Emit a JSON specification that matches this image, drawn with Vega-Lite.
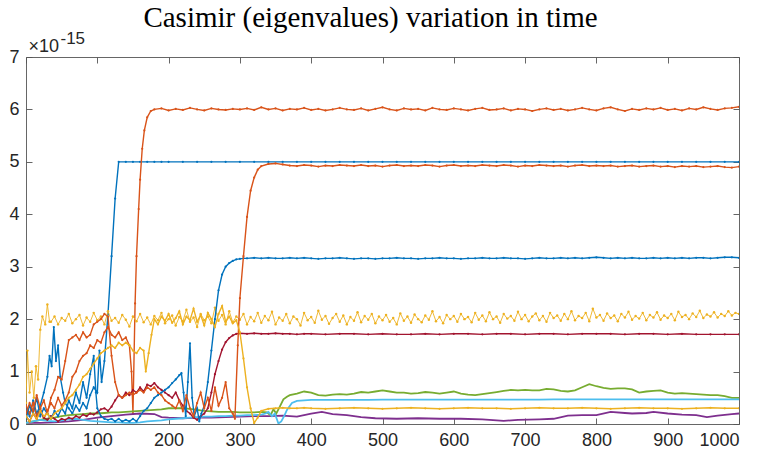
{
"$schema": "https://vega.github.io/schema/vega-lite/v6.json",
"width": 713, "height": 367,
"autosize": {"type": "none"},
"padding": {"left": 26, "top": 57, "right": 25, "bottom": 30},
"background": "white",
"title": {"text": "Casimir (eigenvalues) variation in time", "font": "Liberation Serif", "fontSize": 29, "fontWeight": "normal", "color": "#000000", "anchor": "middle", "baseline": "alphabetic", "offset": 6, "dy": 33, "dx": -12},
"config": {"view": {"stroke": null}, "axis": {"labelFont": "Liberation Sans", "labelFontSize": 18, "labelColor": "#262626", "domainColor": "#555555", "tickColor": "#555555", "domainWidth": 0.9, "tickWidth": 0.9, "grid": false, "tickSize": -6, "labelPadding": 13}},
"datasets": {
"b1": [{"t":0,"v":0.3},{"t":5,"v":0.15},{"t":10,"v":0.45},{"t":15,"v":0.2},{"t":20,"v":0.35},{"t":25,"v":0.6},{"t":30,"v":0.9},{"t":33,"v":1.3},{"t":36,"v":1.1},{"t":39,"v":1.85},{"t":42,"v":1.2},{"t":45,"v":1.5},{"t":48,"v":0.9},{"t":52,"v":0.6},{"t":55,"v":0.4},{"t":60,"v":0.3},{"t":65,"v":0.2},{"t":70,"v":0.35},{"t":75,"v":0.25},{"t":80,"v":0.4},{"t":85,"v":0.3},{"t":90,"v":0.55},{"t":95,"v":0.7},{"t":100,"v":0.6},{"t":103,"v":1.4},{"t":106,"v":0.8},{"t":110,"v":1.2},{"t":115,"v":2.1},{"t":120,"v":3.2},{"t":125,"v":4.3},{"t":130,"v":5},{"t":140,"v":5},{"t":150,"v":5},{"t":160,"v":5},{"t":170,"v":5},{"t":180,"v":5},{"t":190,"v":5},{"t":200,"v":5},{"t":220,"v":5},{"t":240,"v":5},{"t":260,"v":5},{"t":280,"v":5},{"t":300,"v":5},{"t":320,"v":5},{"t":340,"v":5},{"t":360,"v":5},{"t":380,"v":5},{"t":400,"v":5},{"t":420,"v":5},{"t":440,"v":5},{"t":460,"v":5},{"t":480,"v":5},{"t":500,"v":5},{"t":520,"v":5},{"t":540,"v":5},{"t":560,"v":5},{"t":580,"v":5},{"t":600,"v":5},{"t":620,"v":5},{"t":640,"v":5},{"t":660,"v":5},{"t":680,"v":5},{"t":700,"v":5},{"t":720,"v":5},{"t":740,"v":5},{"t":760,"v":5},{"t":780,"v":5},{"t":800,"v":5},{"t":820,"v":5},{"t":840,"v":5},{"t":860,"v":5},{"t":880,"v":5},{"t":900,"v":5},{"t":920,"v":5},{"t":940,"v":5},{"t":960,"v":5},{"t":980,"v":5},{"t":1000,"v":5}],
"o1": [{"t":0,"v":0.35},{"t":5,"v":0.2},{"t":10,"v":0.4},{"t":15,"v":0.15},{"t":20,"v":0.3},{"t":25,"v":0.1},{"t":30,"v":0.25},{"t":35,"v":0.4},{"t":40,"v":0.3},{"t":45,"v":0.5},{"t":50,"v":0.35},{"t":55,"v":0.45},{"t":60,"v":0.6},{"t":65,"v":0.9},{"t":70,"v":1.0},{"t":75,"v":1.2},{"t":80,"v":1.3},{"t":85,"v":1.35},{"t":90,"v":1.5},{"t":95,"v":1.45},{"t":100,"v":1.6},{"t":105,"v":1.55},{"t":110,"v":1.75},{"t":115,"v":1.85},{"t":120,"v":1.7},{"t":125,"v":1.65},{"t":130,"v":1.75},{"t":135,"v":1.6},{"t":140,"v":1.65},{"t":145,"v":1.5},{"t":148,"v":1.0},{"t":150,"v":0.2},{"t":153,"v":2.3},{"t":155,"v":3.2},{"t":158,"v":4.1},{"t":160,"v":4.66},{"t":163,"v":5.25},{"t":166,"v":5.6},{"t":170,"v":5.85},{"t":175,"v":5.97},{"t":180,"v":6.0},{"t":190,"v":6.02},{"t":200,"v":5.98},{"t":210,"v":6.01},{"t":220,"v":5.99},{"t":230,"v":6.03},{"t":240,"v":6.0},{"t":250,"v":5.98},{"t":260,"v":6.02},{"t":270,"v":6.0},{"t":280,"v":5.99},{"t":290,"v":6.01},{"t":300,"v":6.0},{"t":310,"v":6.02},{"t":320,"v":5.99},{"t":330,"v":6.04},{"t":340,"v":6.0},{"t":350,"v":6.02},{"t":360,"v":5.98},{"t":370,"v":6.01},{"t":380,"v":6.0},{"t":390,"v":6.03},{"t":400,"v":5.99},{"t":410,"v":6.01},{"t":420,"v":5.98},{"t":430,"v":6.0},{"t":440,"v":6.03},{"t":450,"v":6.0},{"t":460,"v":5.99},{"t":470,"v":6.02},{"t":480,"v":5.98},{"t":490,"v":6.01},{"t":500,"v":6.04},{"t":510,"v":6.0},{"t":520,"v":5.98},{"t":530,"v":6.02},{"t":540,"v":6.0},{"t":550,"v":6.01},{"t":560,"v":5.98},{"t":570,"v":6.03},{"t":580,"v":6.0},{"t":590,"v":5.99},{"t":600,"v":6.02},{"t":610,"v":6.0},{"t":620,"v":5.98},{"t":630,"v":6.01},{"t":640,"v":6.03},{"t":650,"v":5.99},{"t":660,"v":6.0},{"t":670,"v":6.02},{"t":680,"v":5.98},{"t":690,"v":6.01},{"t":700,"v":6.0},{"t":710,"v":5.97},{"t":720,"v":6.0},{"t":730,"v":6.02},{"t":740,"v":5.99},{"t":750,"v":6.01},{"t":760,"v":5.98},{"t":770,"v":6.0},{"t":780,"v":6.03},{"t":790,"v":6.0},{"t":800,"v":5.98},{"t":810,"v":6.02},{"t":820,"v":6.04},{"t":830,"v":6.0},{"t":840,"v":5.97},{"t":850,"v":6.01},{"t":860,"v":5.99},{"t":870,"v":6.02},{"t":880,"v":6.0},{"t":890,"v":6.03},{"t":900,"v":5.99},{"t":910,"v":6.01},{"t":920,"v":5.98},{"t":930,"v":6.02},{"t":940,"v":6.0},{"t":950,"v":6.04},{"t":960,"v":6.01},{"t":970,"v":5.99},{"t":980,"v":6.02},{"t":990,"v":6.03},{"t":1000,"v":6.05}],
"y1": [{"t":0,"v":0.4},{"t":2,"v":1.4},{"t":5,"v":0.6},{"t":8,"v":1.0},{"t":11,"v":0.5},{"t":14,"v":1.1},{"t":17,"v":0.85},{"t":20,"v":1.8},{"t":23,"v":2.05},{"t":27,"v":1.9},{"t":30,"v":2.28},{"t":33,"v":1.95},{"t":35,"v":1.95},{"t":40,"v":2.05},{"t":45,"v":1.9},{"t":50,"v":2.02},{"t":55,"v":1.97},{"t":60,"v":2.1},{"t":65,"v":1.92},{"t":70,"v":2.0},{"t":75,"v":2.08},{"t":80,"v":1.88},{"t":85,"v":2.03},{"t":90,"v":1.95},{"t":95,"v":2.12},{"t":100,"v":1.98},{"t":105,"v":2.05},{"t":110,"v":1.9},{"t":115,"v":2.15},{"t":120,"v":1.97},{"t":125,"v":2.02},{"t":130,"v":1.93},{"t":135,"v":2.08},{"t":140,"v":1.99},{"t":145,"v":1.86},{"t":150,"v":2.05},{"t":155,"v":1.96},{"t":160,"v":2.1},{"t":165,"v":1.94},{"t":170,"v":2.03},{"t":175,"v":1.9},{"t":180,"v":2.06},{"t":185,"v":1.98},{"t":190,"v":2.12},{"t":195,"v":1.92},{"t":200,"v":2.0},{"t":205,"v":2.07},{"t":210,"v":1.88},{"t":215,"v":2.04},{"t":220,"v":1.96},{"t":225,"v":2.18},{"t":230,"v":1.95},{"t":235,"v":2.03},{"t":240,"v":1.85},{"t":245,"v":2.1},{"t":250,"v":1.98},{"t":255,"v":2.05},{"t":260,"v":1.92},{"t":265,"v":2.22},{"t":270,"v":1.97},{"t":275,"v":2.08},{"t":280,"v":1.9},{"t":285,"v":2.15},{"t":290,"v":1.94},{"t":295,"v":2.05},{"t":300,"v":1.99},{"t":305,"v":2.1},{"t":310,"v":1.9},{"t":315,"v":2.04},{"t":320,"v":1.96},{"t":325,"v":2.12},{"t":330,"v":1.93},{"t":335,"v":2.06},{"t":340,"v":1.98},{"t":345,"v":2.14},{"t":350,"v":1.9},{"t":355,"v":2.03},{"t":360,"v":1.97},{"t":365,"v":2.1},{"t":370,"v":1.92},{"t":375,"v":2.05},{"t":380,"v":2.0},{"t":385,"v":1.88},{"t":390,"v":2.12},{"t":395,"v":1.98},{"t":400,"v":2.04},{"t":405,"v":1.93},{"t":410,"v":2.16},{"t":415,"v":1.99},{"t":420,"v":2.06},{"t":425,"v":1.91},{"t":430,"v":2.02},{"t":435,"v":2.1},{"t":440,"v":1.95},{"t":445,"v":2.07},{"t":450,"v":1.9},{"t":455,"v":2.04},{"t":460,"v":1.97},{"t":465,"v":2.13},{"t":470,"v":1.94},{"t":475,"v":2.06},{"t":480,"v":1.99},{"t":485,"v":2.1},{"t":490,"v":1.92},{"t":495,"v":2.05},{"t":500,"v":1.98},{"t":505,"v":2.08},{"t":510,"v":1.95},{"t":515,"v":2.02},{"t":520,"v":1.9},{"t":525,"v":2.11},{"t":530,"v":1.97},{"t":535,"v":2.05},{"t":540,"v":1.93},{"t":545,"v":2.09},{"t":550,"v":2.0},{"t":555,"v":1.94},{"t":560,"v":2.07},{"t":565,"v":1.99},{"t":570,"v":2.15},{"t":575,"v":1.96},{"t":580,"v":2.04},{"t":585,"v":1.92},{"t":590,"v":2.08},{"t":595,"v":2.0},{"t":600,"v":2.06},{"t":605,"v":1.95},{"t":610,"v":2.1},{"t":615,"v":2.0},{"t":620,"v":2.04},{"t":625,"v":1.94},{"t":630,"v":2.12},{"t":635,"v":1.99},{"t":640,"v":2.07},{"t":645,"v":1.96},{"t":650,"v":2.13},{"t":655,"v":2.0},{"t":660,"v":2.05},{"t":665,"v":1.93},{"t":670,"v":2.1},{"t":675,"v":2.01},{"t":680,"v":2.06},{"t":685,"v":1.97},{"t":690,"v":2.14},{"t":695,"v":2.0},{"t":700,"v":2.08},{"t":705,"v":1.96},{"t":710,"v":2.05},{"t":715,"v":2.11},{"t":720,"v":1.98},{"t":725,"v":2.06},{"t":730,"v":1.95},{"t":735,"v":2.12},{"t":740,"v":2.02},{"t":745,"v":2.07},{"t":750,"v":1.97},{"t":755,"v":2.1},{"t":760,"v":2.0},{"t":765,"v":2.15},{"t":770,"v":1.98},{"t":775,"v":2.06},{"t":780,"v":2.02},{"t":785,"v":2.12},{"t":790,"v":1.96},{"t":795,"v":2.2},{"t":800,"v":2.03},{"t":805,"v":2.08},{"t":810,"v":1.97},{"t":815,"v":2.11},{"t":820,"v":2.02},{"t":825,"v":2.07},{"t":830,"v":1.96},{"t":835,"v":2.1},{"t":840,"v":2.03},{"t":845,"v":2.14},{"t":850,"v":1.99},{"t":855,"v":2.06},{"t":860,"v":2.01},{"t":865,"v":2.12},{"t":870,"v":1.98},{"t":875,"v":2.08},{"t":880,"v":2.03},{"t":885,"v":2.13},{"t":890,"v":1.99},{"t":895,"v":2.07},{"t":900,"v":2.02},{"t":905,"v":2.1},{"t":910,"v":1.98},{"t":915,"v":2.14},{"t":920,"v":2.04},{"t":925,"v":2.08},{"t":930,"v":2.0},{"t":935,"v":2.11},{"t":940,"v":2.04},{"t":945,"v":2.16},{"t":950,"v":2.02},{"t":955,"v":2.09},{"t":960,"v":2.05},{"t":965,"v":2.13},{"t":970,"v":2.03},{"t":975,"v":2.1},{"t":980,"v":2.06},{"t":985,"v":2.15},{"t":990,"v":2.07},{"t":995,"v":2.12},{"t":1000,"v":2.1}],
"p1": [{"t":0,"v":0.02},{"t":20,"v":0.02},{"t":40,"v":0.03},{"t":60,"v":0.05},{"t":80,"v":0.08},{"t":100,"v":0.12},{"t":120,"v":0.15},{"t":140,"v":0.18},{"t":160,"v":0.2},{"t":180,"v":0.19},{"t":190,"v":0.13},{"t":200,"v":0.12},{"t":220,"v":0.11},{"t":240,"v":0.12},{"t":260,"v":0.12},{"t":280,"v":0.13},{"t":300,"v":0.14},{"t":320,"v":0.15},{"t":340,"v":0.15},{"t":360,"v":0.16},{"t":380,"v":0.14},{"t":400,"v":0.2},{"t":415,"v":0.23},{"t":430,"v":0.19},{"t":450,"v":0.17},{"t":470,"v":0.13},{"t":490,"v":0.11},{"t":520,"v":0.1},{"t":550,"v":0.11},{"t":580,"v":0.1},{"t":610,"v":0.1},{"t":640,"v":0.09},{"t":670,"v":0.06},{"t":690,"v":0.08},{"t":720,"v":0.09},{"t":740,"v":0.1},{"t":760,"v":0.16},{"t":780,"v":0.17},{"t":800,"v":0.17},{"t":820,"v":0.23},{"t":840,"v":0.21},{"t":850,"v":0.2},{"t":870,"v":0.21},{"t":880,"v":0.23},{"t":900,"v":0.2},{"t":920,"v":0.18},{"t":940,"v":0.17},{"t":955,"v":0.13},{"t":970,"v":0.16},{"t":990,"v":0.19},{"t":1000,"v":0.2}],
"g1": [{"t":0,"v":0.02},{"t":10,"v":0.05},{"t":20,"v":0.08},{"t":30,"v":0.1},{"t":40,"v":0.12},{"t":50,"v":0.15},{"t":60,"v":0.17},{"t":70,"v":0.18},{"t":80,"v":0.19},{"t":90,"v":0.2},{"t":100,"v":0.2},{"t":110,"v":0.21},{"t":120,"v":0.22},{"t":130,"v":0.22},{"t":140,"v":0.23},{"t":150,"v":0.24},{"t":160,"v":0.25},{"t":170,"v":0.26},{"t":180,"v":0.27},{"t":190,"v":0.28},{"t":200,"v":0.3},{"t":210,"v":0.3},{"t":220,"v":0.3},{"t":230,"v":0.29},{"t":240,"v":0.27},{"t":250,"v":0.25},{"t":260,"v":0.24},{"t":270,"v":0.23},{"t":280,"v":0.23},{"t":290,"v":0.23},{"t":300,"v":0.22},{"t":310,"v":0.22},{"t":320,"v":0.22},{"t":330,"v":0.23},{"t":338,"v":0.22},{"t":343,"v":0.17},{"t":347,"v":0.28},{"t":351,"v":0.2},{"t":356,"v":0.33},{"t":361,"v":0.47},{"t":366,"v":0.52},{"t":370,"v":0.55},{"t":380,"v":0.58},{"t":390,"v":0.62},{"t":400,"v":0.6},{"t":410,"v":0.55},{"t":420,"v":0.54},{"t":430,"v":0.56},{"t":440,"v":0.57},{"t":450,"v":0.56},{"t":460,"v":0.58},{"t":470,"v":0.61},{"t":480,"v":0.6},{"t":490,"v":0.62},{"t":500,"v":0.64},{"t":510,"v":0.62},{"t":520,"v":0.6},{"t":530,"v":0.6},{"t":540,"v":0.58},{"t":550,"v":0.59},{"t":560,"v":0.61},{"t":570,"v":0.6},{"t":580,"v":0.58},{"t":590,"v":0.6},{"t":600,"v":0.62},{"t":610,"v":0.58},{"t":620,"v":0.56},{"t":630,"v":0.55},{"t":640,"v":0.57},{"t":650,"v":0.59},{"t":660,"v":0.61},{"t":670,"v":0.63},{"t":680,"v":0.65},{"t":690,"v":0.64},{"t":700,"v":0.65},{"t":710,"v":0.64},{"t":720,"v":0.64},{"t":730,"v":0.67},{"t":740,"v":0.66},{"t":750,"v":0.63},{"t":760,"v":0.62},{"t":770,"v":0.64},{"t":780,"v":0.7},{"t":790,"v":0.76},{"t":800,"v":0.72},{"t":810,"v":0.69},{"t":820,"v":0.67},{"t":830,"v":0.68},{"t":840,"v":0.68},{"t":850,"v":0.66},{"t":860,"v":0.6},{"t":870,"v":0.62},{"t":880,"v":0.63},{"t":890,"v":0.64},{"t":900,"v":0.6},{"t":910,"v":0.58},{"t":920,"v":0.59},{"t":930,"v":0.58},{"t":940,"v":0.57},{"t":950,"v":0.56},{"t":960,"v":0.55},{"t":970,"v":0.55},{"t":980,"v":0.53},{"t":990,"v":0.5},{"t":1000,"v":0.5}],
"c1": [{"t":0,"v":0.02},{"t":10,"v":0.05},{"t":20,"v":0.08},{"t":30,"v":0.06},{"t":40,"v":0.05},{"t":50,"v":0.07},{"t":60,"v":0.09},{"t":70,"v":0.1},{"t":80,"v":0.08},{"t":90,"v":0.06},{"t":100,"v":0.05},{"t":110,"v":0.04},{"t":120,"v":0.03},{"t":130,"v":0.03},{"t":140,"v":0.02},{"t":150,"v":0.02},{"t":160,"v":0.03},{"t":170,"v":0.05},{"t":180,"v":0.06},{"t":190,"v":0.07},{"t":200,"v":0.09},{"t":210,"v":0.1},{"t":220,"v":0.11},{"t":230,"v":0.12},{"t":240,"v":0.13},{"t":250,"v":0.14},{"t":260,"v":0.14},{"t":270,"v":0.15},{"t":280,"v":0.15},{"t":290,"v":0.16},{"t":300,"v":0.16},{"t":310,"v":0.17},{"t":320,"v":0.17},{"t":330,"v":0.18},{"t":336,"v":0.2},{"t":340,"v":0.23},{"t":345,"v":0.15},{"t":349,"v":0.2},{"t":354,"v":0.01},{"t":358,"v":0.05},{"t":362,"v":0.15},{"t":366,"v":0.27},{"t":373,"v":0.4},{"t":380,"v":0.44},{"t":390,"v":0.45},{"t":400,"v":0.46},{"t":420,"v":0.46},{"t":440,"v":0.46},{"t":460,"v":0.46},{"t":480,"v":0.46},{"t":500,"v":0.465},{"t":520,"v":0.465},{"t":540,"v":0.465},{"t":560,"v":0.465},{"t":580,"v":0.465},{"t":600,"v":0.465},{"t":620,"v":0.465},{"t":640,"v":0.465},{"t":660,"v":0.465},{"t":680,"v":0.465},{"t":700,"v":0.465},{"t":720,"v":0.465},{"t":740,"v":0.47},{"t":760,"v":0.47},{"t":780,"v":0.47},{"t":800,"v":0.47},{"t":820,"v":0.47},{"t":840,"v":0.47},{"t":860,"v":0.47},{"t":880,"v":0.47},{"t":900,"v":0.47},{"t":920,"v":0.47},{"t":940,"v":0.47},{"t":960,"v":0.47},{"t":980,"v":0.47},{"t":1000,"v":0.47}],
"r1": [{"t":0,"v":0.15},{"t":5,"v":0.05},{"t":10,"v":0.2},{"t":15,"v":0.1},{"t":20,"v":0.25},{"t":25,"v":0.12},{"t":30,"v":0.08},{"t":35,"v":0.15},{"t":40,"v":0.1},{"t":45,"v":0.05},{"t":50,"v":0.1},{"t":55,"v":0.08},{"t":60,"v":0.12},{"t":65,"v":0.1},{"t":70,"v":0.15},{"t":75,"v":0.12},{"t":80,"v":0.18},{"t":85,"v":0.15},{"t":90,"v":0.2},{"t":95,"v":0.18},{"t":100,"v":0.22},{"t":105,"v":0.28},{"t":110,"v":0.3},{"t":115,"v":0.25},{"t":120,"v":0.33},{"t":125,"v":0.45},{"t":130,"v":0.55},{"t":135,"v":0.5},{"t":140,"v":0.6},{"t":145,"v":0.55},{"t":150,"v":0.65},{"t":155,"v":0.6},{"t":160,"v":0.7},{"t":165,"v":0.62},{"t":170,"v":0.75},{"t":175,"v":0.72},{"t":180,"v":0.78},{"t":185,"v":0.7},{"t":190,"v":0.65},{"t":195,"v":0.6},{"t":200,"v":0.55},{"t":205,"v":0.5},{"t":210,"v":0.6},{"t":215,"v":0.45},{"t":220,"v":0.35},{"t":225,"v":0.25},{"t":230,"v":0.2},{"t":235,"v":0.12},{"t":240,"v":0.08},{"t":245,"v":0.15},{"t":250,"v":0.2},{"t":255,"v":0.3},{"t":260,"v":0.6},{"t":265,"v":0.95},{"t":270,"v":1.2},{"t":275,"v":1.42},{"t":280,"v":1.56},{"t":285,"v":1.64},{"t":290,"v":1.69},{"t":295,"v":1.72},{"t":300,"v":1.73},{"t":310,"v":1.72},{"t":320,"v":1.73},{"t":330,"v":1.72},{"t":340,"v":1.72},{"t":350,"v":1.73},{"t":360,"v":1.72},{"t":370,"v":1.72},{"t":380,"v":1.71},{"t":390,"v":1.72},{"t":400,"v":1.72},{"t":420,"v":1.71},{"t":440,"v":1.72},{"t":460,"v":1.72},{"t":480,"v":1.71},{"t":500,"v":1.72},{"t":520,"v":1.71},{"t":540,"v":1.71},{"t":560,"v":1.72},{"t":580,"v":1.71},{"t":600,"v":1.72},{"t":620,"v":1.72},{"t":640,"v":1.71},{"t":660,"v":1.72},{"t":680,"v":1.72},{"t":700,"v":1.71},{"t":720,"v":1.72},{"t":740,"v":1.72},{"t":760,"v":1.71},{"t":780,"v":1.72},{"t":800,"v":1.72},{"t":820,"v":1.72},{"t":840,"v":1.71},{"t":860,"v":1.72},{"t":880,"v":1.72},{"t":900,"v":1.71},{"t":920,"v":1.72},{"t":940,"v":1.71},{"t":960,"v":1.71},{"t":980,"v":1.71},{"t":1000,"v":1.71}],
"b2": [{"t":0,"v":0.1},{"t":5,"v":0.35},{"t":10,"v":0.2},{"t":15,"v":0.5},{"t":20,"v":0.15},{"t":25,"v":0.3},{"t":30,"v":0.2},{"t":35,"v":0.1},{"t":40,"v":0.25},{"t":45,"v":0.15},{"t":50,"v":0.3},{"t":55,"v":0.2},{"t":60,"v":0.45},{"t":65,"v":0.3},{"t":70,"v":0.6},{"t":75,"v":0.4},{"t":80,"v":0.8},{"t":85,"v":0.5},{"t":90,"v":0.95},{"t":95,"v":1.3},{"t":98,"v":0.6},{"t":100,"v":0.3},{"t":105,"v":0.15},{"t":110,"v":0.1},{"t":115,"v":0.08},{"t":120,"v":0.1},{"t":125,"v":0.05},{"t":130,"v":0.1},{"t":135,"v":0.05},{"t":140,"v":0.08},{"t":145,"v":0.05},{"t":150,"v":0.1},{"t":155,"v":0.05},{"t":160,"v":0.15},{"t":165,"v":0.25},{"t":170,"v":0.3},{"t":175,"v":0.4},{"t":180,"v":0.5},{"t":185,"v":0.55},{"t":190,"v":0.6},{"t":195,"v":0.65},{"t":200,"v":0.7},{"t":205,"v":0.78},{"t":210,"v":0.85},{"t":215,"v":0.93},{"t":218,"v":0.97},{"t":221,"v":0.6},{"t":224,"v":0.15},{"t":227,"v":0.8},{"t":230,"v":1.54},{"t":233,"v":0.5},{"t":236,"v":0.15},{"t":240,"v":0.3},{"t":243,"v":0.05},{"t":246,"v":0.2},{"t":250,"v":0.35},{"t":255,"v":0.8},{"t":260,"v":1.4},{"t":265,"v":2.0},{"t":270,"v":2.55},{"t":275,"v":2.85},{"t":280,"v":3.0},{"t":285,"v":3.07},{"t":290,"v":3.11},{"t":295,"v":3.14},{"t":300,"v":3.15},{"t":305,"v":3.16},{"t":310,"v":3.16},{"t":320,"v":3.17},{"t":330,"v":3.16},{"t":340,"v":3.17},{"t":350,"v":3.16},{"t":360,"v":3.16},{"t":370,"v":3.17},{"t":380,"v":3.16},{"t":390,"v":3.17},{"t":400,"v":3.16},{"t":410,"v":3.15},{"t":420,"v":3.16},{"t":430,"v":3.16},{"t":440,"v":3.17},{"t":450,"v":3.16},{"t":460,"v":3.15},{"t":470,"v":3.16},{"t":480,"v":3.16},{"t":490,"v":3.15},{"t":500,"v":3.16},{"t":510,"v":3.16},{"t":520,"v":3.17},{"t":530,"v":3.16},{"t":540,"v":3.16},{"t":550,"v":3.15},{"t":560,"v":3.16},{"t":570,"v":3.16},{"t":580,"v":3.17},{"t":590,"v":3.16},{"t":600,"v":3.16},{"t":610,"v":3.15},{"t":620,"v":3.16},{"t":630,"v":3.16},{"t":640,"v":3.17},{"t":650,"v":3.16},{"t":660,"v":3.16},{"t":670,"v":3.17},{"t":680,"v":3.16},{"t":690,"v":3.16},{"t":700,"v":3.15},{"t":710,"v":3.16},{"t":720,"v":3.17},{"t":730,"v":3.16},{"t":740,"v":3.16},{"t":750,"v":3.17},{"t":760,"v":3.16},{"t":770,"v":3.17},{"t":780,"v":3.16},{"t":790,"v":3.17},{"t":800,"v":3.18},{"t":810,"v":3.17},{"t":820,"v":3.16},{"t":830,"v":3.17},{"t":840,"v":3.16},{"t":850,"v":3.17},{"t":860,"v":3.16},{"t":870,"v":3.16},{"t":880,"v":3.17},{"t":890,"v":3.16},{"t":900,"v":3.17},{"t":910,"v":3.16},{"t":920,"v":3.17},{"t":930,"v":3.16},{"t":940,"v":3.17},{"t":950,"v":3.17},{"t":960,"v":3.16},{"t":970,"v":3.17},{"t":980,"v":3.18},{"t":990,"v":3.18},{"t":1000,"v":3.17}],
"o2": [{"t":0,"v":0.2},{"t":5,"v":0.4},{"t":10,"v":0.25},{"t":15,"v":0.55},{"t":20,"v":0.3},{"t":25,"v":0.45},{"t":30,"v":0.2},{"t":35,"v":0.5},{"t":40,"v":0.65},{"t":45,"v":0.9},{"t":50,"v":0.85},{"t":55,"v":1.2},{"t":60,"v":1.6},{"t":65,"v":1.65},{"t":70,"v":1.7},{"t":75,"v":1.6},{"t":80,"v":1.75},{"t":85,"v":1.65},{"t":90,"v":1.7},{"t":95,"v":1.9},{"t":100,"v":1.95},{"t":105,"v":2.0},{"t":110,"v":2.1},{"t":115,"v":2.05},{"t":120,"v":1.3},{"t":125,"v":0.8},{"t":130,"v":0.55},{"t":135,"v":0.5},{"t":140,"v":0.55},{"t":145,"v":0.6},{"t":150,"v":0.55},{"t":155,"v":0.6},{"t":160,"v":0.65},{"t":165,"v":0.6},{"t":170,"v":0.7},{"t":175,"v":0.65},{"t":180,"v":0.7},{"t":185,"v":0.6},{"t":190,"v":0.55},{"t":195,"v":0.45},{"t":200,"v":0.4},{"t":205,"v":0.35},{"t":210,"v":0.3},{"t":215,"v":0.45},{"t":220,"v":0.25},{"t":225,"v":0.55},{"t":230,"v":0.3},{"t":235,"v":0.15},{"t":240,"v":0.4},{"t":245,"v":0.6},{"t":250,"v":0.3},{"t":255,"v":0.5},{"t":260,"v":0.25},{"t":265,"v":0.7},{"t":270,"v":0.35},{"t":275,"v":0.5},{"t":280,"v":0.8},{"t":285,"v":0.3},{"t":290,"v":0.2},{"t":293,"v":0.1},{"t":297,"v":1.5},{"t":300,"v":2.4},{"t":305,"v":3.2},{"t":310,"v":3.95},{"t":315,"v":4.45},{"t":320,"v":4.7},{"t":325,"v":4.85},{"t":330,"v":4.92},{"t":340,"v":4.96},{"t":350,"v":4.97},{"t":360,"v":4.95},{"t":370,"v":4.93},{"t":380,"v":4.92},{"t":390,"v":4.94},{"t":400,"v":4.93},{"t":410,"v":4.91},{"t":420,"v":4.93},{"t":430,"v":4.92},{"t":440,"v":4.94},{"t":450,"v":4.93},{"t":460,"v":4.92},{"t":470,"v":4.94},{"t":480,"v":4.92},{"t":490,"v":4.93},{"t":500,"v":4.91},{"t":510,"v":4.93},{"t":520,"v":4.94},{"t":530,"v":4.92},{"t":540,"v":4.93},{"t":550,"v":4.92},{"t":560,"v":4.94},{"t":570,"v":4.93},{"t":580,"v":4.91},{"t":590,"v":4.93},{"t":600,"v":4.94},{"t":610,"v":4.92},{"t":620,"v":4.93},{"t":630,"v":4.92},{"t":640,"v":4.94},{"t":650,"v":4.93},{"t":660,"v":4.92},{"t":670,"v":4.94},{"t":680,"v":4.93},{"t":690,"v":4.91},{"t":700,"v":4.93},{"t":710,"v":4.92},{"t":720,"v":4.94},{"t":730,"v":4.93},{"t":740,"v":4.92},{"t":750,"v":4.93},{"t":760,"v":4.91},{"t":770,"v":4.93},{"t":780,"v":4.94},{"t":790,"v":4.92},{"t":800,"v":4.93},{"t":810,"v":4.92},{"t":820,"v":4.93},{"t":830,"v":4.91},{"t":840,"v":4.92},{"t":850,"v":4.93},{"t":860,"v":4.91},{"t":870,"v":4.92},{"t":880,"v":4.93},{"t":890,"v":4.91},{"t":900,"v":4.92},{"t":910,"v":4.9},{"t":920,"v":4.92},{"t":930,"v":4.91},{"t":940,"v":4.92},{"t":950,"v":4.9},{"t":960,"v":4.91},{"t":970,"v":4.92},{"t":980,"v":4.9},{"t":990,"v":4.89},{"t":1000,"v":4.91}],
"y2": [{"t":0,"v":0.15},{"t":5,"v":0.05},{"t":10,"v":0.2},{"t":15,"v":0.1},{"t":20,"v":0.25},{"t":25,"v":0.15},{"t":30,"v":0.2},{"t":35,"v":0.1},{"t":40,"v":0.2},{"t":45,"v":0.25},{"t":50,"v":0.3},{"t":55,"v":0.4},{"t":60,"v":0.5},{"t":65,"v":0.55},{"t":70,"v":0.65},{"t":75,"v":0.75},{"t":80,"v":0.9},{"t":85,"v":0.95},{"t":90,"v":1.05},{"t":95,"v":1.15},{"t":100,"v":1.25},{"t":105,"v":1.35},{"t":110,"v":1.4},{"t":115,"v":1.45},{"t":120,"v":1.5},{"t":125,"v":1.45},{"t":130,"v":1.55},{"t":135,"v":1.5},{"t":140,"v":1.55},{"t":145,"v":1.5},{"t":150,"v":1.4},{"t":155,"v":1.35},{"t":160,"v":1.45},{"t":165,"v":1.4},{"t":168,"v":1.0},{"t":172,"v":1.35},{"t":176,"v":1.7},{"t":180,"v":2.0},{"t":185,"v":1.9},{"t":190,"v":2.05},{"t":195,"v":1.97},{"t":200,"v":2.1},{"t":205,"v":1.93},{"t":210,"v":2.02},{"t":215,"v":2.15},{"t":220,"v":1.9},{"t":225,"v":2.05},{"t":230,"v":1.98},{"t":235,"v":2.2},{"t":240,"v":1.95},{"t":245,"v":2.08},{"t":250,"v":1.88},{"t":255,"v":2.12},{"t":260,"v":2.0},{"t":265,"v":1.85},{"t":270,"v":2.1},{"t":275,"v":2.25},{"t":280,"v":1.95},{"t":285,"v":2.05},{"t":290,"v":1.92},{"t":295,"v":1.98},{"t":300,"v":1.75},{"t":305,"v":1.25},{"t":310,"v":0.7},{"t":315,"v":0.3},{"t":320,"v":0.02},{"t":325,"v":0.12},{"t":330,"v":0.25},{"t":340,"v":0.29},{"t":350,"v":0.3},{"t":360,"v":0.31},{"t":370,"v":0.3},{"t":380,"v":0.3},{"t":390,"v":0.31},{"t":400,"v":0.3},{"t":420,"v":0.29},{"t":440,"v":0.3},{"t":460,"v":0.31},{"t":480,"v":0.3},{"t":500,"v":0.29},{"t":520,"v":0.3},{"t":540,"v":0.31},{"t":560,"v":0.3},{"t":580,"v":0.29},{"t":600,"v":0.3},{"t":620,"v":0.31},{"t":640,"v":0.3},{"t":660,"v":0.3},{"t":680,"v":0.29},{"t":700,"v":0.3},{"t":720,"v":0.31},{"t":740,"v":0.3},{"t":760,"v":0.3},{"t":780,"v":0.31},{"t":800,"v":0.3},{"t":820,"v":0.29},{"t":840,"v":0.3},{"t":860,"v":0.31},{"t":880,"v":0.3},{"t":900,"v":0.3},{"t":920,"v":0.29},{"t":940,"v":0.3},{"t":960,"v":0.31},{"t":980,"v":0.3},{"t":1000,"v":0.3}],
"frame": [{"t":0,"v":0},{"t":1000,"v":7}]
},
"encoding": {
"x": {"field": "t", "type": "quantitative", "scale": {"domain": [0, 1000], "nice": false, "zero": false}, "axis": null},
"y": {"field": "v", "type": "quantitative", "scale": {"domain": [0, 7], "nice": false}, "axis": null}
},
"layer": [
{"data": {"name": "b1"}, "mark": {"type": "line", "color": "#0072BD", "strokeWidth": 1.4, "clip": true, "point": {"filled": true, "size": 5, "color": "#0072BD"}}},
{"data": {"name": "o1"}, "mark": {"type": "line", "color": "#D95319", "strokeWidth": 1.4, "clip": true, "point": {"filled": true, "size": 5, "color": "#D95319"}}},
{"data": {"name": "y1"}, "mark": {"type": "line", "color": "#EDB120", "strokeWidth": 0.9, "clip": true, "point": {"filled": true, "size": 6, "color": "#EDB120"}}},
{"data": {"name": "p1"}, "mark": {"type": "line", "color": "#7E2F8E", "strokeWidth": 1.8, "clip": true}},
{"data": {"name": "g1"}, "mark": {"type": "line", "color": "#77AC30", "strokeWidth": 1.8, "clip": true}},
{"data": {"name": "c1"}, "mark": {"type": "line", "color": "#4DBEEE", "strokeWidth": 1.8, "clip": true}},
{"data": {"name": "r1"}, "mark": {"type": "line", "color": "#A2142F", "strokeWidth": 1.4, "clip": true, "point": {"filled": true, "size": 5, "color": "#A2142F"}}},
{"data": {"name": "b2"}, "mark": {"type": "line", "color": "#0072BD", "strokeWidth": 1.4, "clip": true, "point": {"filled": true, "size": 5, "color": "#0072BD"}}},
{"data": {"name": "o2"}, "mark": {"type": "line", "color": "#D95319", "strokeWidth": 1.4, "clip": true, "point": {"filled": true, "size": 5, "color": "#D95319"}}},
{"data": {"name": "y2"}, "mark": {"type": "line", "color": "#EDB120", "strokeWidth": 1.4, "clip": true, "point": {"filled": true, "size": 5, "color": "#EDB120"}}},
{"data": {"name": "frame"}, "mark": {"type": "point", "opacity": 0},
 "encoding": {
  "x": {"field": "t", "type": "quantitative", "axis": {"orient": "bottom", "values": [0,100,200,300,400,500,600,700,800,900,1000], "format": "d", "title": null}},
  "y": {"field": "v", "type": "quantitative", "axis": {"orient": "left", "values": [0,1,2,3,4,5,6,7], "format": "d", "title": "×10", "titleAngle": 0, "titleAlign": "left", "titleBaseline": "alphabetic", "titleX": 2, "titleY": -5.5, "titleFont": "Liberation Sans", "titleFontSize": 18, "titleFontWeight": "normal", "titleColor": "#262626"}}
 }},
{"data": {"name": "frame"}, "mark": {"type": "point", "opacity": 0},
 "encoding": {
  "x": {"field": "t", "type": "quantitative", "axis": {"orient": "top", "values": [0,100,200,300,400,500,600,700,800,900,1000], "labels": false, "title": "-15", "titleAngle": 0, "titleAlign": "left", "titleBaseline": "alphabetic", "titleX": 34, "titleY": -14, "titleFont": "Liberation Sans", "titleFontSize": 17, "titleFontWeight": "normal", "titleColor": "#262626"}},
  "y": {"field": "v", "type": "quantitative", "axis": {"orient": "right", "values": [0,1,2,3,4,5,6,7], "labels": false, "title": null}}
 }}
],
"resolve": {"axis": {"x": "independent", "y": "independent"}}
}
